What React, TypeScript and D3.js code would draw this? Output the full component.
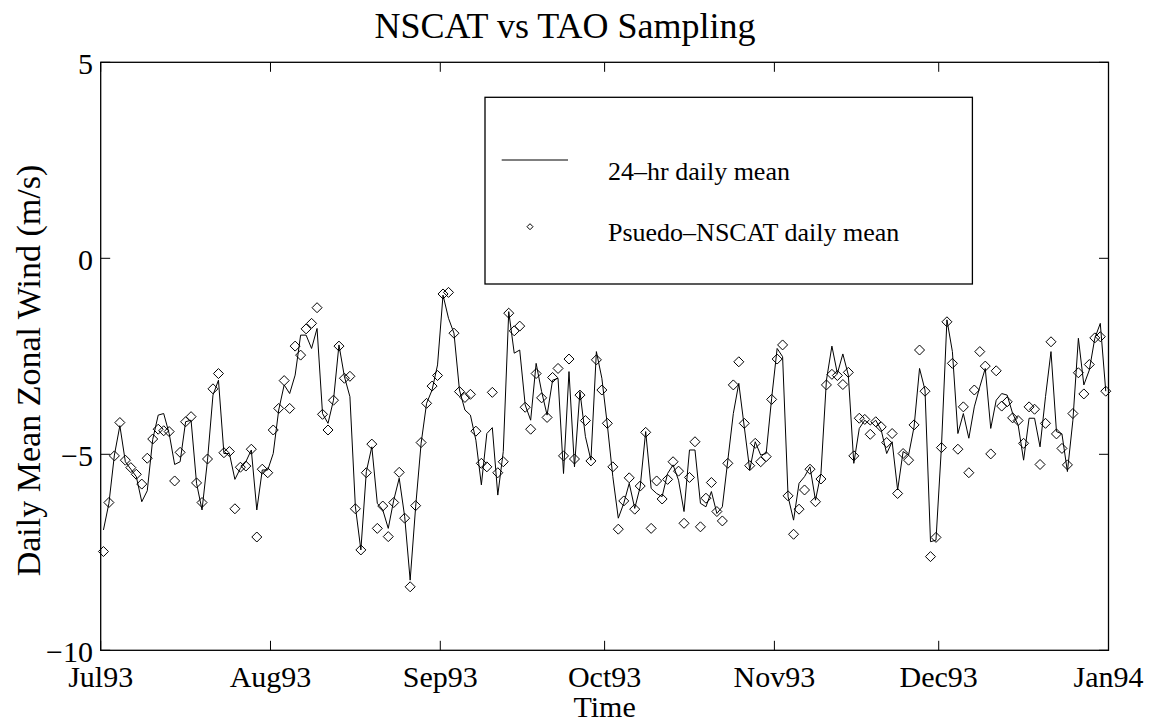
import React from "react";
import * as d3 from "d3";

// Daily series, Jul 1 1993 .. Dec 31 1993 (one value per day, plotted at noon)
const startDate = new Date(Date.UTC(1993, 6, 1));
const endDate = new Date(Date.UTC(1994, 0, 1));

const dailyMean24hr: number[] = [
  -6.93, -6.25, -5.02, -4.27, -5.19, -5.38, -5.57, -6.21, -5.93, -4.62,
  -4.0, -3.96, -4.47, -5.26, -5.19, -4.17, -4.13, -5.74, -6.42, -5.15,
  -3.49, -3.11, -4.98, -4.98, -5.64, -5.36, -5.19, -4.89, -6.42, -5.4,
  -5.4, -4.98, -3.87, -3.23, -3.45, -2.98, -1.96, -1.96, -2.3, -1.79,
  -3.96, -4.21, -3.62, -2.21, -3.02, -3.53, -6.34, -7.44, -5.44, -4.81,
  -6.25, -6.42, -6.89, -6.17, -5.61, -6.59, -8.21, -6.34, -4.72, -3.7,
  -3.36, -2.72, -0.94, -1.53, -1.91, -3.36, -3.87, -4.0, -4.64, -5.78,
  -4.47, -4.32, -6.04, -4.93, -1.36, -2.42, -2.34, -3.74, -4.13, -2.68,
  -3.4, -4.0, -3.11, -3.06, -5.49, -2.89, -5.32, -3.4, -4.55, -5.15,
  -2.38, -3.06, -4.25, -5.57, -6.63, -6.25, -5.74, -6.38, -5.83, -4.42,
  -5.87, -6.0, -6.08, -5.49, -5.27, -5.66, -6.46, -4.89, -4.89, -6.25,
  -6.34, -5.95, -6.51, -6.34, -5.15, -3.96, -3.19, -4.3, -5.4, -4.68,
  -5.02, -4.98, -3.57, -2.3, -2.51, -6.08, -6.68, -5.74, -5.57, -5.32,
  -6.17, -5.49, -3.11, -2.24, -2.94, -2.44, -2.98, -5.23, -4.34, -4.13,
  -4.25, -4.13, -4.38, -4.98, -4.68, -5.91, -4.93, -5.02, -4.3, -2.81,
  -3.36, -7.23, -7.19, -4.81, -1.57, -2.38, -4.47, -3.96, -4.59, -3.79,
  -3.28, -2.81, -4.34, -3.62, -3.45, -3.49, -3.96, -4.25, -5.15, -4.08,
  -4.08, -4.81, -3.53, -2.38, -4.42, -4.48, -5.44, -4.13, -2.04, -3.23,
  -2.85, -2.04, -1.66, -3.39,
];

const pseudoNscat: number[] = [
  -7.48, -6.23, -5.04, -4.19, -5.15, -5.34, -5.51, -5.76, -5.1, -4.61,
  -4.36, -4.4, -4.42, -5.68, -4.95, -4.17, -4.04, -5.73, -6.23, -5.12,
  -3.33, -2.94, -4.96, -4.93, -6.39, -5.33, -5.3, -4.87, -7.11, -5.38,
  -5.47, -4.38, -3.83, -3.12, -3.83, -2.24, -2.47, -1.8, -1.66, -1.26,
  -3.98, -4.38, -3.62, -2.24, -3.06, -3.01, -6.39, -7.44, -5.47, -4.74,
  -6.89, -6.32, -7.1, -6.23, -5.46, -6.63, -8.38, -6.31, -4.7, -3.7,
  -3.26, -2.99, -0.91, -0.87, -1.91, -3.4, -3.55, -3.47, -4.41, -5.23,
  -5.32, -3.42, -5.47, -5.19, -1.4, -1.85, -1.73, -3.8, -4.36, -2.94,
  -3.56, -4.06, -3.04, -2.81, -5.04, -2.57, -5.12, -3.49, -4.14, -5.17,
  -2.59, -3.36, -4.21, -5.32, -6.91, -6.19, -5.6, -6.4, -5.81, -4.44,
  -6.89, -5.68, -6.14, -5.64, -5.19, -5.43, -6.76, -5.59, -4.68, -6.85,
  -6.12, -5.72, -6.46, -6.7, -5.23, -3.23, -2.64, -4.21, -5.29, -4.72,
  -5.19, -5.06, -3.6, -2.57, -2.21, -6.06, -7.04, -6.4, -5.91, -5.38,
  -6.21, -5.63, -3.23, -2.96, -2.99, -3.22, -2.91, -5.04, -4.08, -4.11,
  -4.49, -4.17, -4.3, -4.7, -4.47, -6.0, -4.98, -5.15, -4.25, -2.34,
  -3.39, -7.61, -7.12, -4.83, -1.62, -2.68, -4.87, -3.79, -5.47, -3.36,
  -2.38, -2.75, -4.99, -2.87, -3.77, -3.66, -4.07, -4.14, -4.72, -3.79,
  -3.85, -5.26, -4.21, -2.13, -4.48, -4.85, -5.27, -3.96, -2.92, -3.46,
  -2.71, -2.03, -2.0, -3.39,
];

const yTicks = [-10, -5, 0, 5];
const xTickDates = [
  new Date(Date.UTC(1993, 6, 1)),
  new Date(Date.UTC(1993, 7, 1)),
  new Date(Date.UTC(1993, 8, 1)),
  new Date(Date.UTC(1993, 9, 1)),
  new Date(Date.UTC(1993, 10, 1)),
  new Date(Date.UTC(1993, 11, 1)),
  new Date(Date.UTC(1994, 0, 1)),
];
const xTickLabels = ["Jul93", "Aug93", "Sep93", "Oct93", "Nov93", "Dec93", "Jan94"];

const titleText = "NSCAT vs TAO Sampling";
const xLabelText = "Time";
const yLabelText = "Daily Mean Zonal Wind (m/s)";
const legendLabels = ["24\u2013hr daily mean", "Psuedo\u2013NSCAT daily mean"];

const W = 1156;
const H = 725;
const L = 100.7, R = 1108.5, T = 62.3, B = 650.3;
const FONT = "'Liberation Serif', 'Times New Roman', Times, serif";

export default function App() {
  const x = d3.scaleUtc().domain([startDate, endDate]).range([L, R]);
  const y = d3.scaleLinear().domain([-10, 5]).range([B, T]);
  const dayMs = 86400000;
  const dateOf = (i: number) => new Date(startDate.getTime() + (i + 0.5) * dayMs);

  const line = d3
    .line<number>()
    .x((_, i) => x(dateOf(i)))
    .y((v) => y(v));

  const tickLen = 9.5;
  const dSize = 5;
  const diamond = (cx: number, cy: number, s: number) =>
    `M${cx},${cy - s}L${cx + s},${cy}L${cx},${cy + s}L${cx - s},${cy}Z`;

  return (
    <div style={{ position: "absolute", left: 0, top: 0, width: W, height: H, background: "#fff" }}>
      <svg width={W} height={H} style={{ display: "block" }} fontFamily={FONT}>
        <rect x={0} y={0} width={W} height={H} fill="#fff" />
        {/* data line */}
        <path d={line(dailyMean24hr) || ""} fill="none" stroke="#000" strokeWidth={1} />
        {/* diamonds */}
        <g fill="none" stroke="#000" strokeWidth={1}>
          {pseudoNscat.map((v, i) => (
            <path key={i} d={diamond(x(dateOf(i)), y(v), dSize)} />
          ))}
        </g>
        {/* axes box */}
        <rect x={L} y={T} width={R - L} height={B - T} fill="none" stroke="#000" strokeWidth={1.3} />
        {/* ticks */}
        <g stroke="#000" strokeWidth={1}>
          {xTickDates.map((d, i) => (
            <g key={i}>
              <line x1={x(d)} x2={x(d)} y1={B} y2={B - tickLen} />
              <line x1={x(d)} x2={x(d)} y1={T} y2={T + tickLen} />
            </g>
          ))}
          {yTicks.map((t, i) => (
            <g key={i}>
              <line x1={L} x2={L + tickLen} y1={y(t)} y2={y(t)} />
              <line x1={R} x2={R - tickLen} y1={y(t)} y2={y(t)} />
            </g>
          ))}
        </g>
        {/* tick labels */}
        <g fontSize={30} fill="#000">
          {xTickDates.map((d, i) => (
            <text key={i} x={x(d)} y={686.5} textAnchor="middle">
              {xTickLabels[i]}
            </text>
          ))}
          {yTicks.map((t, i) => (
            <text key={i} x={93} y={y(t) + 12} textAnchor="end">
              {t < 0 ? "\u2212" + Math.abs(t) : String(t)}
            </text>
          ))}
        </g>
        {/* axis labels */}
        <text x={(L + R) / 2} y={716.5} textAnchor="middle" fontSize={30}>
          {xLabelText}
        </text>
        <text
          transform={`translate(40,370.5) rotate(-90)`}
          textAnchor="middle"
          fontSize={34}
        >
          {yLabelText}
        </text>
        {/* title */}
        <text x={565} y={38} textAnchor="middle" fontSize={36}>
          {titleText}
        </text>
        {/* legend */}
        <rect x={485} y={97.3} width={487.4} height={186.7} fill="#fff" stroke="#000" strokeWidth={1.3} />
        <line x1={501.7} x2={568} y1={160} y2={160} stroke="#000" strokeWidth={1} />
        <path d={diamond(530, 226.7, 3)} fill="none" stroke="#000" strokeWidth={1} />
        <text x={608} y={180} fontSize={26}>
          {legendLabels[0]}
        </text>
        <text x={608} y={241} fontSize={26}>
          {legendLabels[1]}
        </text>
      </svg>
    </div>
  );
}
